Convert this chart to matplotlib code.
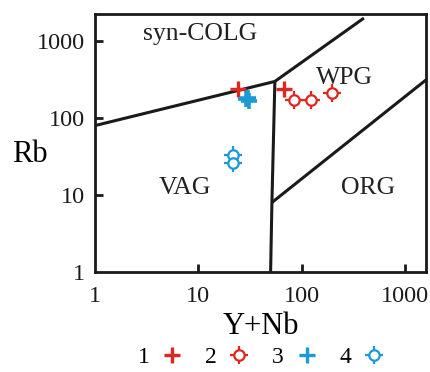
import numpy as np
import matplotlib
matplotlib.use("Agg")
import matplotlib.pyplot as plt
from matplotlib.lines import Line2D

plt.rcParams['font.family'] = ['Liberation Serif', 'DejaVu Serif']

# field boundaries (Pearce et al. 1984), Y+Nb vs Rb
vag_colg_x = [1, 55, 400]
vag_colg_y = [80, 300, 2000]
vag_wpg_x = [55, 51.5, 50]
vag_wpg_y = [300, 8, 1]
wpg_org_x = [51.5, 2000]
wpg_org_y = [8, 400]

# samples
s1_x = [24, 67]
s1_y = [238, 238]
s2_x = [84, 122, 195]
s2_y = [171, 171, 215]
s3_x = [29, 31, 30]
s3_y = [176, 168, 180]
s4_x = [21.5, 21.5]
s4_y = [33, 26]

red = '#e0261f'
blue = '#1b9ad6'

fig = plt.figure(figsize=(4.30, 3.72), dpi=100)
ax = fig.add_axes([0.221, 0.269, 0.770, 0.693])
ax.set_xscale('log')
ax.set_yscale('log')
ax.set_xlim(1, 1600)
ax.set_ylim(1, 2250)

for xs, ys in [(vag_colg_x, vag_colg_y), (vag_wpg_x, vag_wpg_y), (wpg_org_x, wpg_org_y)]:
    ax.plot(xs, ys, color='#1a1a1a', lw=2.2, solid_capstyle='butt', zorder=2)

def target(x, y, c):
    ax.plot(x, y, ls='none', marker='+', ms=13, mew=1.6, color=c, zorder=3)
    ax.plot(x, y, ls='none', marker='o', ms=7.5, mew=1.6, mec=c, mfc='white', zorder=4)

ax.plot(s1_x, s1_y, ls='none', marker='+', ms=12, mew=2.4, color=red, zorder=3)
target(s2_x, s2_y, red)
ax.plot(s3_x, s3_y, ls='none', marker='+', ms=12, mew=2.6, color=blue, zorder=3)
target(s4_x, s4_y, blue)

tkw = dict(fontsize=18.5, color='#222222', ha='center', va='center')
ax.text(10.3, 1230, 'syn-COLG', **tkw)
ax.text(260, 330, 'WPG', **tkw)
ax.text(7.4, 12.3, 'VAG', **tkw)
ax.text(437, 12.3, 'ORG', **tkw)

for s in ax.spines.values():
    s.set_linewidth(2.0)
    s.set_color('#1a1a1a')

ax.set_xticks([1, 10, 100, 1000])
ax.set_xticklabels(['1', '10', '100', '1000'])
ax.set_yticks([1, 10, 100, 1000])
ax.set_yticklabels(['1', '10', '100', '1000'])
ax.minorticks_off()
ax.tick_params(direction='in', length=6, width=2, labelsize=17.5, colors='#1a1a1a',
               top=False, right=False)
ax.tick_params(axis='x', pad=10)
ax.tick_params(axis='y', pad=7)
ax.xaxis.get_major_ticks()[0].tick1line.set_visible(False)
ax.yaxis.get_major_ticks()[0].tick1line.set_visible(False)

ax.set_xlabel('Y+Nb', fontsize=22, labelpad=4)
ax.set_ylabel('Rb', fontsize=22, rotation=0, ha='center', va='center')
ax.yaxis.set_label_coords(-0.196, 0.455)

h1 = Line2D([], [], ls='none', marker='+', ms=12, mew=2.4, color=red)
h2a = Line2D([], [], ls='none', marker='+', ms=13, mew=1.6, color=red)
h2b = Line2D([], [], ls='none', marker='o', ms=7.5, mew=1.6, mec=red, mfc='white')
h3 = Line2D([], [], ls='none', marker='+', ms=12, mew=2.4, color=blue)
h4a = Line2D([], [], ls='none', marker='+', ms=13, mew=1.6, color=blue)
h4b = Line2D([], [], ls='none', marker='o', ms=7.5, mew=1.6, mec=blue, mfc='white')
fig.legend([h1, (h2a, h2b), h3, (h4a, h4b)], ['1', '2', '3', '4'], ncol=4,
           markerfirst=False, frameon=False, loc='center', bbox_to_anchor=(0.61, 0.04),
           fontsize=17, handlelength=1.1, handletextpad=0.4, columnspacing=0.85)

fig.savefig('out.png', dpi=100)
